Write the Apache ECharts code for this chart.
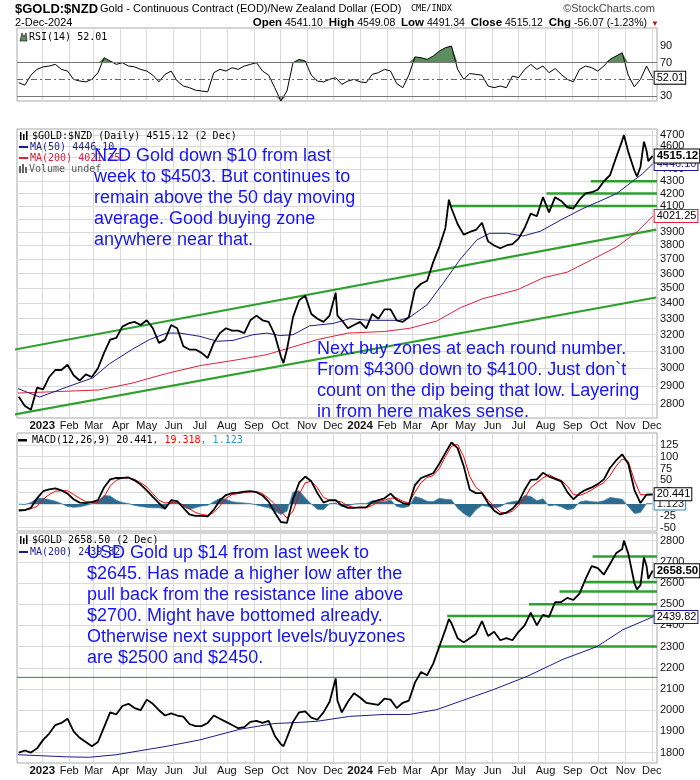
<!DOCTYPE html>
<html><head><meta charset="utf-8">
<script src="https://cdn.jsdelivr.net/npm/echarts@6/dist/echarts.min.js"></script>
<style>html,body{margin:0;padding:0;background:#fff}#c{width:700px;height:780px}</style>
</head><body><div id="c"></div>
<script>
// ---------------- DATA ----------------
const priceDates = [
'2022-12-05','2022-12-12','2022-12-19','2022-12-26',
'2023-01-02','2023-01-09','2023-01-16','2023-01-23','2023-01-30',
'2023-02-06','2023-02-13','2023-02-20','2023-02-27',
'2023-03-06','2023-03-13','2023-03-20','2023-03-27',
'2023-04-03','2023-04-10','2023-04-17','2023-04-24',
'2023-05-01','2023-05-08','2023-05-15','2023-05-22','2023-05-29',
'2023-06-05','2023-06-12','2023-06-19','2023-06-26',
'2023-07-03','2023-07-10','2023-07-17','2023-07-24','2023-07-31',
'2023-08-07','2023-08-14','2023-08-21','2023-08-28',
'2023-09-04','2023-09-11','2023-09-18','2023-09-25',
'2023-10-02','2023-10-05','2023-10-09','2023-10-16','2023-10-23','2023-10-30',
'2023-11-06','2023-11-13','2023-11-20','2023-11-27',
'2023-12-04','2023-12-06','2023-12-11','2023-12-18','2023-12-25',
'2024-01-01','2024-01-08','2024-01-15','2024-01-22','2024-01-29',
'2024-02-05','2024-02-12','2024-02-19','2024-02-26',
'2024-03-04','2024-03-11','2024-03-18','2024-03-25',
'2024-04-01','2024-04-08','2024-04-12','2024-04-15','2024-04-22','2024-04-29',
'2024-05-06','2024-05-13','2024-05-20','2024-05-27',
'2024-06-03','2024-06-10','2024-06-17','2024-06-24',
'2024-07-01','2024-07-08','2024-07-15','2024-07-22','2024-07-29',
'2024-08-05','2024-08-12','2024-08-19','2024-08-26',
'2024-09-02','2024-09-09','2024-09-16','2024-09-23','2024-09-30',
'2024-10-07','2024-10-14','2024-10-21','2024-10-28','2024-10-30',
'2024-11-04','2024-11-11','2024-11-14','2024-11-18','2024-11-22','2024-11-25','2024-11-27',
'2024-12-02'];
const nzdClose = [
2840,2790,2770,2890,
2880,2950,2990,2990,3020,
2960,2930,2965,2950,
3000,3090,3170,3180,
3250,3270,3280,3260,
3290,3240,3150,3170,3260,
3240,3130,3110,3110,
3090,3060,3150,3210,3240,
3225,3225,3210,3290,
3320,3290,3280,3200,
3070,3030,3110,3310,3420,3450,
3330,3300,3280,3320,
3470,3320,3290,3240,3260,
3280,3240,3330,3300,3360,
3360,3290,3280,3310,
3490,3530,3550,3680,
3790,3930,4150,4080,3960,3880,
3900,3915,3970,3830,
3800,3780,3800,3810,
3850,3930,4040,4020,4170,
4050,4170,4140,4090,
4080,4150,4200,4210,4230,
4300,4350,4500,4650,4700,
4550,4390,4340,4420,4640,4560,4470,
4515.12];
const usdClose = [
1800,1810,1800,1820,
1860,1890,1930,1940,1960,
1900,1870,1850,1830,
1850,1920,1990,1980,
2020,2030,2010,2000,
2050,2030,2000,1975,1985,
1975,1970,1935,1925,
1925,1940,1975,1960,1945,
1930,1915,1920,1945,
1950,1940,1950,1880,
1840,1830,1870,1945,1990,1995,
1965,1955,1990,2040,
2150,2045,1990,2040,2080,
2060,2035,2030,2025,2055,
2050,2010,2035,2045,
2130,2180,2165,2220,
2300,2380,2430,2410,2340,2320,
2340,2360,2420,2350,
2370,2330,2340,2330,
2370,2400,2460,2400,2450,
2440,2510,2510,2530,
2520,2550,2620,2680,2670,
2640,2690,2740,2760,2800,
2740,2600,2570,2590,2720,2680,2620,
2658.50];

const weeks = [
'2022-12-05','2022-12-12','2022-12-19','2022-12-26',
'2023-01-02','2023-01-09','2023-01-16','2023-01-23','2023-01-30',
'2023-02-06','2023-02-13','2023-02-20','2023-02-27',
'2023-03-06','2023-03-13','2023-03-20','2023-03-27',
'2023-04-03','2023-04-10','2023-04-17','2023-04-24',
'2023-05-01','2023-05-08','2023-05-15','2023-05-22','2023-05-29',
'2023-06-05','2023-06-12','2023-06-19','2023-06-26',
'2023-07-03','2023-07-10','2023-07-17','2023-07-24','2023-07-31',
'2023-08-07','2023-08-14','2023-08-21','2023-08-28',
'2023-09-04','2023-09-11','2023-09-18','2023-09-25',
'2023-10-02','2023-10-09','2023-10-16','2023-10-23','2023-10-30',
'2023-11-06','2023-11-13','2023-11-20','2023-11-27',
'2023-12-04','2023-12-11','2023-12-18','2023-12-25',
'2024-01-01','2024-01-08','2024-01-15','2024-01-22','2024-01-29',
'2024-02-05','2024-02-12','2024-02-19','2024-02-26',
'2024-03-04','2024-03-11','2024-03-18','2024-03-25',
'2024-04-01','2024-04-08','2024-04-15','2024-04-22','2024-04-29',
'2024-05-06','2024-05-13','2024-05-20','2024-05-27',
'2024-06-03','2024-06-10','2024-06-17','2024-06-24',
'2024-07-01','2024-07-08','2024-07-15','2024-07-22','2024-07-29',
'2024-08-05','2024-08-12','2024-08-19','2024-08-26',
'2024-09-02','2024-09-09','2024-09-16','2024-09-23','2024-09-30',
'2024-10-07','2024-10-14','2024-10-21','2024-10-28',
'2024-11-04','2024-11-11','2024-11-18','2024-11-25',
'2024-12-02'];
const rsi14 = [
46,43,55,62,
65,66,68,62,60,
50,48,47,50,
58,76,72,68,
70,66,65,62,
60,55,47,56,60,
48,42,40,37,
36,35,58,62,60,
64,62,66,68,
70,60,55,40,
24,36,70,74,72,
55,48,47,50,
52,44,48,50,
47,46,56,58,62,
60,45,40,55,
77,76,74,78,
84,88,90,62,50,
57,56,55,42,
40,42,40,54,
52,62,68,62,66,
58,63,56,50,
47,62,66,64,60,
66,74,78,82,
55,41,50,66,
52.01];
const macdLine = [
-14,-13,-8,12,
27,31,33,29,22,
10,3,2,4,
8,35,52,55,
55,56,50,41,
29,15,2,-10,8,
6,-8,-22,-25,
-25,-26,-12,8,19,
23,24,26,27,
25,18,5,-18,
-38,-40,10,45,58,
48,23,3,8,
8,-3,-8,-8,
-7,-7,4,8,12,
22,9,2,-1,
40,55,60,65,
85,108,130,118,80,
30,23,23,2,
-14,-22,-18,-10,
4,30,51,52,66,
58,53,48,25,
10,22,30,35,42,
52,76,92,105,
85,30,2,20,
20.441];
const macdSignal = [
-12,-12,-10,-5,
10,20,27,28,28,
20,12,5,4,
4,15,38,50,
55,55,52,45,
36,22,8,2,4,
4,-2,-10,-18,
-22,-24,-18,-4,12,
20,22,24,26,
26,22,12,0,
-15,-30,-15,20,45,
48,34,14,8,
7,4,-4,-7,
-8,-8,-3,5,8,
12,13,6,2,
25,45,56,60,
75,100,122,126,100,
58,35,25,8,
-5,-17,-20,-15,
-3,12,35,45,55,
62,55,50,38,
20,18,23,30,38,
45,60,80,95,
90,50,20,19,
19.318];
const macdHist = [
0,-1,3,12,
12,9,6,1,-5,
-7,-6,-3,1,
6,18,17,8,
3,1,-3,-5,
-7,-8,-8,-10,5,
3,-6,-11,-8,
-4,-3,5,12,10,
5,3,2,1,
-2,-5,-8,-15,
-22,-15,25,28,13,
0,-11,-12,1,
2,-5,-4,0,
1,1,7,5,5,
9,-5,-8,-5,
16,12,6,5,
12,10,9,-9,-20,
-28,-12,-3,-5,
-8,-6,2,5,
7,18,16,7,11,
-4,-2,-6,-12,
-10,4,7,5,4,
7,14,12,10,
-5,-20,-18,1,
1.123];

const nzdMa50Dates = ['2022-12-04','2022-12-29','2023-01-29','2023-02-28','2023-03-19','2023-04-14','2023-05-04','2023-05-24','2023-06-08','2023-07-01','2023-07-21','2023-08-08','2023-08-31','2023-09-16','2023-10-01','2023-10-16','2023-11-04','2023-12-01','2023-12-20','2024-01-12','2024-02-15','2024-02-27','2024-03-18','2024-04-05','2024-04-25','2024-05-14','2024-05-29','2024-06-18','2024-07-06','2024-07-26','2024-08-21','2024-09-13','2024-10-06','2024-10-22','2024-11-09','2024-11-20','2024-12-02'];
const nzdMa50 = [2885,2838,2893,2945,3025,3110,3170,3210,3210,3190,3160,3165,3200,3210,3195,3200,3255,3270,3300,3290,3290,3310,3390,3530,3700,3840,3890,3890,3870,3905,4000,4080,4150,4200,4300,4360,4446.10];
const nzdMa200Dates = ['2022-12-04','2023-03-07','2023-04-14','2023-05-24','2023-07-01','2023-08-08','2023-09-16','2023-10-09','2023-11-13','2023-12-18','2024-01-29','2024-02-27','2024-03-29','2024-04-25','2024-05-21','2024-06-30','2024-07-29','2024-08-26','2024-09-24','2024-10-22','2024-11-14','2024-12-02'];
const nzdMa200 = [2860,2877,2915,2970,3015,3045,3080,3115,3170,3210,3220,3240,3285,3370,3430,3490,3570,3610,3700,3790,3900,4021.25];
const usdMa200Dates = ['2022-12-04','2023-01-29','2023-02-24','2023-03-27','2023-05-24','2023-07-01','2023-08-16','2023-09-24','2023-10-25','2023-11-13','2023-12-20','2024-01-29','2024-02-27','2024-03-29','2024-04-25','2024-06-02','2024-07-11','2024-08-21','2024-09-29','2024-10-29','2024-12-02'];
const usdMa200 = [1790,1780,1778,1790,1830,1860,1910,1937,1943,1948,1971,1980,1980,2003,2042,2097,2160,2240,2300,2380,2439.82];

const nzdChannelDates = ['2022-11-14','2024-12-06'];
const nzdUpperChannel = [3094,3917];
const nzdLowerChannel = [2731,3438];
const nzdSupportLevels = [4100,4200,4300];
const nzdSupportStarts = ['2024-04-13','2024-08-02','2024-09-22'];
const usdSupportLevels = [2725,2605,2560,2500,2445,2300];
const usdSupportStarts = ['2024-09-24','2024-09-15','2024-08-17','2024-07-13','2024-04-10','2024-03-30'];
const usdResistanceLevel = 2155;

const nzdTicks = [2800,2900,3000,3100,3200,3300,3400,3500,3600,3700,3800,3900,4000,4100,4200,4300,4400,4500,4600,4700];
const usdTicks = [1800,1900,2000,2100,2200,2300,2400,2500,2600,2700,2800];
const macdTicks = [-50,-25,0,25,50,75,100,125];
const rsiTicks = [30,50,70,90];
const monthTicks = ['2023-01-01','2023-02-01','2023-03-01','2023-04-01','2023-05-01','2023-06-01','2023-07-01','2023-08-01','2023-09-01','2023-10-01','2023-11-01','2023-12-01','2024-01-01','2024-02-01','2024-03-01','2024-04-01','2024-05-01','2024-06-01','2024-07-01','2024-08-01','2024-09-01','2024-10-01','2024-11-01','2024-12-01'];
const monthNames = ['Jan','Feb','Mar','Apr','May','Jun','Jul','Aug','Sep','Oct','Nov','Dec'];
const xStart = '2022-12-03', xEnd = '2024-12-07';

// ---------------- BUILD ----------------
const FONT = 'Liberation Sans, Arial, sans-serif';
const MONO = 'DejaVu Sans Mono, monospace';
const ln = Math.log;
const ts = d => new Date(d + 'T00:00:00').getTime();
const pair = (dates, vals, f) => dates.map((d, i) => [ts(d), f ? f(vals[i]) : vals[i]]);
const last = a => a[a.length - 1];
const monthTs = monthTicks.map(ts);

function fmtMonth(v) {
  const d = new Date(v);
  return d.getMonth() === 0 ? '{y|' + d.getFullYear() + '}' : monthNames[d.getMonth()];
}
function xAxisFor(gi, showLabels) {
  return {
    type: 'value', gridIndex: gi, min: ts(xStart), max: ts(xEnd), scale: true,
    axisLine: {show: false}, axisPointer: {show: false},
    axisTick: {show: false, customValues: monthTs},
    axisLabel: {show: showLabels, customValues: monthTs, formatter: fmtMonth, fontSize: 11, fontFamily: FONT, color: '#111', margin: 2,
      rich: {y: {fontWeight: 'bold', fontSize: 11.5, fontFamily: FONT, color: '#111'}}},
    splitLine: {show: true, lineStyle: {color: '#dadada', width: 1}}
  };
}
function yAxisFor(gi, min, max, ticks, fmt, split) {
  return {
    type: 'value', gridIndex: gi, position: 'right', min, max, scale: true,
    axisLine: {show: false},
    axisTick: {show: false, customValues: ticks},
    axisLabel: {customValues: ticks, formatter: fmt, fontSize: 11, fontFamily: FONT, color: '#111', margin: 3},
    splitLine: {show: split, lineStyle: {color: '#dadada', width: 1}}
  };
}
function boxLabel(text, color, textColor, bold) {
  return {show: true, formatter: () => text, backgroundColor: '#fff', borderColor: color, borderWidth: 1,
    padding: [1, 1, 0, 2], fontSize: bold ? 11.5 : 11, fontFamily: FONT, fontWeight: bold ? 'bold' : 'normal', color: textColor, distance: 2};
}
const gridBase = {show: true, borderColor: '#a8a8a8', borderWidth: 1, backgroundColor: 'transparent', containLabel: false, outerBoundsMode: 'none', left: 17, right: 43};

const GREEN = '#2ea02e';
const series = [];
// RSI panel
series.push({type: 'line', xAxisIndex: 0, yAxisIndex: 0, data: pair(weeks, rsi14, v => Math.max(v, 70)), symbol: 'none', silent: true,
  lineStyle: {width: 0, opacity: 0}, areaStyle: {origin: 70, color: '#5e8c5e', opacity: 1}});
series.push({type: 'line', xAxisIndex: 0, yAxisIndex: 0, data: pair(weeks, rsi14, v => Math.min(v, 30)), symbol: 'none', silent: true,
  lineStyle: {width: 0, opacity: 0}, areaStyle: {origin: 30, color: '#999', opacity: 1}});
series.push({type: 'line', xAxisIndex: 0, yAxisIndex: 0, data: pair(weeks, rsi14), symbol: 'none',
  lineStyle: {color: '#000', width: 1},
  markLine: {silent: true, symbol: 'none', label: {show: false},
    data: [{yAxis: 70, lineStyle: {color: '#777', width: 1, type: 'solid'}},
           {yAxis: 30, lineStyle: {color: '#777', width: 1, type: 'solid'}},
           {yAxis: 50, lineStyle: {color: '#666', width: 1, type: [6, 3, 2, 3]}}]},
  endLabel: boxLabel(last(rsi14).toFixed(2), '#000', '#000', false)});

// NZD main panel
series.push({type: 'line', xAxisIndex: 1, yAxisIndex: 1, data: pair(nzdChannelDates, nzdUpperChannel, ln), symbol: 'none', clip: false, silent: true, lineStyle: {color: GREEN, width: 2.2}});
series.push({type: 'line', xAxisIndex: 1, yAxisIndex: 1, data: pair(nzdChannelDates, nzdLowerChannel, ln), symbol: 'none', clip: false, silent: true, lineStyle: {color: GREEN, width: 2.2}});
nzdSupportLevels.forEach((lv, i) => series.push({type: 'line', xAxisIndex: 1, yAxisIndex: 1, symbol: 'none', silent: true,
  data: [[ts(nzdSupportStarts[i]), ln(lv)], [ts(xEnd), ln(lv)]], lineStyle: {color: GREEN, width: 2.5}}));
series.push({type: 'line', xAxisIndex: 1, yAxisIndex: 1, data: pair(nzdMa200Dates, nzdMa200, ln), symbol: 'none', lineStyle: {color: '#e0203c', width: 1},
  endLabel: boxLabel(last(nzdMa200).toFixed(2), '#e0203c', '#000', false)});
series.push({type: 'line', xAxisIndex: 1, yAxisIndex: 1, data: pair(nzdMa50Dates, nzdMa50, ln), symbol: 'none', lineStyle: {color: '#1c1c8c', width: 1},
  endLabel: boxLabel(last(nzdMa50).toFixed(2), '#1c1c8c', '#1c1c8c', false)});
series.push({type: 'line', xAxisIndex: 1, yAxisIndex: 1, data: pair(priceDates, nzdClose, ln), symbol: 'none', lineStyle: {color: '#000', width: 1.8},
  endLabel: boxLabel(last(nzdClose).toFixed(2), '#000', '#000', true)});

// MACD panel
series.push({type: 'line', xAxisIndex: 2, yAxisIndex: 2, data: pair(weeks, macdHist), symbol: 'none',
  lineStyle: {color: '#3a86b4', width: 0.8}, areaStyle: {origin: 0, color: '#2d6b8e', opacity: 1},
  endLabel: boxLabel(last(macdHist).toFixed(3), '#3a86b4', '#222', false)});
series.push({type: 'line', xAxisIndex: 2, yAxisIndex: 2, data: pair(weeks, macdSignal), symbol: 'none', lineStyle: {color: '#ff0000', width: 1}});
series.push({type: 'line', xAxisIndex: 2, yAxisIndex: 2, data: pair(weeks, macdLine), symbol: 'none', lineStyle: {color: '#000', width: 1.8},
  endLabel: boxLabel(last(macdLine).toFixed(3), '#000', '#000', false)});

// USD panel
series.push({type: 'line', xAxisIndex: 3, yAxisIndex: 3, symbol: 'none', silent: true,
  data: [[ts(xStart), usdResistanceLevel], [ts(xEnd), usdResistanceLevel]], lineStyle: {color: '#2e8a2e', width: 1}});
usdSupportLevels.forEach((lv, i) => series.push({type: 'line', xAxisIndex: 3, yAxisIndex: 3, symbol: 'none', silent: true,
  data: [[ts(usdSupportStarts[i]), lv], [ts(xEnd), lv]], lineStyle: {color: GREEN, width: 2.5}}));
series.push({type: 'line', xAxisIndex: 3, yAxisIndex: 3, data: pair(usdMa200Dates, usdMa200), symbol: 'none', lineStyle: {color: '#1c1c8c', width: 1},
  endLabel: boxLabel(last(usdMa200).toFixed(2), '#1c1c8c', '#000', false)});
series.push({type: 'line', xAxisIndex: 3, yAxisIndex: 3, data: pair(priceDates, usdClose), symbol: 'none', lineStyle: {color: '#000', width: 1.8},
  endLabel: boxLabel(last(usdClose).toFixed(2), '#000', '#000', true)});

// ---------------- TEXT ----------------
function T(x, y, text, o) {
  return {type: 'text', x, y, z: 100, silent: true,
    style: Object.assign({text, fontSize: 11, fontFamily: FONT, fill: '#000', verticalAlign: 'middle', align: 'left'}, o || {})};
}
function R(x, y, w, h, fill) { return {type: 'rect', z: 100, silent: true, shape: {x, y, width: w, height: h}, style: {fill}}; }
const BLUE = '#1515f5';
const graphic = [
  T(15, 9, '$GOLD:$NZD', {fontSize: 13, fontWeight: 'bold'}),
  T(100, 9, 'Gold - Continuous Contract (EOD)/New Zealand Dollar (EOD)', {fontSize: 11}),
  T(411, 9, 'CME/INDX', {fontSize: 8.5, fontFamily: MONO}),
  T(655, 9, '\u00A9StockCharts.com', {fontSize: 11, align: 'right', fill: '#444'}),
  T(15, 23, '2-Dec-2024', {fontSize: 11}),
  T(647, 23, '{b|Open} 4541.10  {b|High} 4549.08  {b|Low} 4491.34  {b|Close} 4515.12  {b|Chg} -56.07 (-1.23%)',
    {fontSize: 10.5, align: 'right', rich: {b: {fontWeight: 'bold', fontSize: 11.5, fontFamily: FONT}}}),
  T(651, 24, '\u25BC', {fontSize: 8, fill: '#cc1122'}),
  {type: 'polygon', z: 100, silent: true, shape: {points: [[20, 41], [22, 33], [24, 37], [26, 33], [27, 41]]}, style: {fill: '#5e8c5e', stroke: '#000', lineWidth: 0.6}},
  T(29, 37, 'RSI(14) 52.01', {fontSize: 10, fontFamily: MONO}),
  R(20, 132, 1.5, 8, '#000'), R(23, 134, 1.5, 6, '#000'), R(26, 131, 1.5, 9, '#000'),
  T(32, 136, '$GOLD:$NZD (Daily) 4515.12 (2 Dec)', {fontSize: 10, fontFamily: MONO}),
  R(19, 146, 9, 2, '#1c1c8c'),
  T(30, 147, 'MA(50) 4446.10', {fontSize: 10, fontFamily: MONO, fill: '#1c1c8c'}),
  R(19, 157, 9, 2, '#e0203c'),
  T(30, 158, 'MA(200) 4021.25', {fontSize: 10, fontFamily: MONO, fill: '#e0203c'}),
  R(19, 166, 2, 7, '#666'), R(22, 164, 2, 9, '#666'), R(25, 167, 2, 6, '#666'),
  T(29, 169, 'Volume undef', {fontSize: 10, fontFamily: MONO, fill: '#555'}),
  R(18, 439, 9, 2.5, '#000'),
  T(32, 440, '{k|MACD(12,26,9) 20.441}{r|, 19.318}{c|, 1.123}',
    {fontSize: 10, fontFamily: MONO, rich: {k: {fill: '#000', fontFamily: MONO, fontSize: 10}, r: {fill: '#ff0000', fontFamily: MONO, fontSize: 10}, c: {fill: '#3399cc', fontFamily: MONO, fontSize: 10}}}),
  R(20, 536, 1.5, 8, '#000'), R(23, 538, 1.5, 6, '#000'), R(26, 535, 1.5, 9, '#000'),
  T(32, 540, '$GOLD 2658.50 (2 Dec)', {fontSize: 10, fontFamily: MONO}),
  R(19, 551, 9, 2, '#1c1c8c'),
  T(30, 552, 'MA(200) 2439.82', {fontSize: 10, fontFamily: MONO, fill: '#1c1c8c'}),
  {type: 'text', x: 94, y: 146, z: 110, silent: true, style: {text: 'NZD Gold down $10 from last\nweek to $4503. But continues to\nremain above the 50 day moving\naverage. Good buying zone\nanywhere near that.',
    fontSize: 18, fontFamily: FONT, fill: BLUE, lineHeight: 21, verticalAlign: 'top'}},
  {type: 'text', x: 317, y: 338.5, z: 110, silent: true, style: {text: 'Next buy zones at each round number.\nFrom $4300 down to $4100. Just don`t\ncount on the dip being that low. Layering\nin from here makes sense.',
    fontSize: 18, fontFamily: FONT, fill: BLUE, lineHeight: 21, verticalAlign: 'top'}},
  {type: 'text', x: 87, y: 542.5, z: 110, silent: true, style: {text: 'USD Gold up $14 from last week to\n$2645. Has made a higher low after the\npull back from the resistance line above\n$2700. Might have bottomed already.\nOtherwise next support levels/buyzones\nare $2500 and $2450.',
    fontSize: 18, fontFamily: FONT, fill: BLUE, lineHeight: 21, verticalAlign: 'top'}}
];

const option = {
  animation: false,
  backgroundColor: '#fff',
  grid: [
    Object.assign({}, gridBase, {top: 28, height: 73}),
    Object.assign({}, gridBase, {top: 129, height: 289}),
    Object.assign({}, gridBase, {top: 433, height: 98}),
    Object.assign({}, gridBase, {top: 533, height: 230})
  ],
  xAxis: [xAxisFor(0, false), xAxisFor(1, true), xAxisFor(2, false), xAxisFor(3, true)],
  yAxis: [
    yAxisFor(0, 24, 111.7, rsiTicks, v => String(Math.round(v)), false),
    yAxisFor(1, ln(2726), ln(4755), nzdTicks.map(ln), v => String(Math.round(Math.exp(v))), true),
    yAxisFor(2, -57, 150, macdTicks, v => String(Math.round(v)), true),
    yAxisFor(3, 1751, 2836, usdTicks, v => String(Math.round(v)), true)
  ],
  series,
  graphic
};
echarts.init(document.getElementById('c'), null, {renderer: 'canvas'}).setOption(option);
</script>
</body></html>
